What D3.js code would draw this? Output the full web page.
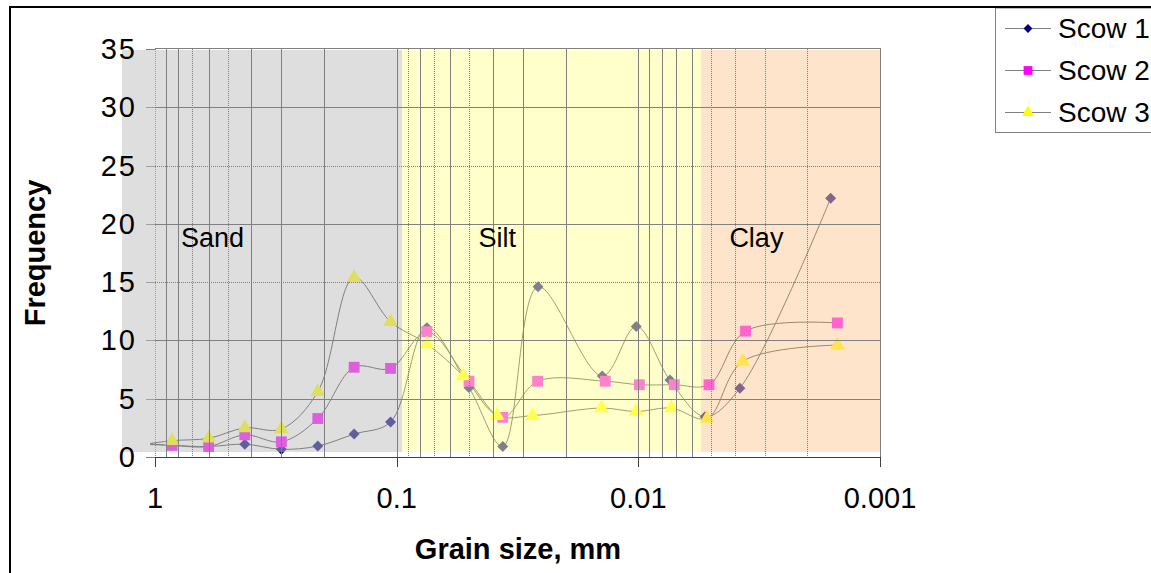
<!DOCTYPE html>
<html><head><meta charset="utf-8">
<script src="https://cdn.jsdelivr.net/npm/d3@7"></script>
<style>body{margin:0;background:#fff;} svg{display:block;font-family:"Liberation Sans",Arial,sans-serif;}</style>
</head><body><svg id="c" width="1151" height="573"></svg>
<script>
// ---- data ----
const seriesNames = ["Scow 1", "Scow 2", "Scow 3"];
const scow1Size = [1.18, 0.85, 0.6, 0.425, 0.3, 0.212, 0.15, 0.106, 0.075, 0.0502, 0.0364, 0.026, 0.0141, 0.0102, 0.0074, 0.0053, 0.0038, 0.0016];
const scow1Freq = [1.2, 1.0, 0.9, 1.1, 0.66, 0.94, 1.97, 3.0, 11.1, 5.95, 0.9, 14.6, 6.95, 11.2, 6.6, 3.46, 5.9, 22.2];
const scow2Size = [1.18, 0.85, 0.6, 0.425, 0.3, 0.212, 0.15, 0.106, 0.075, 0.0502, 0.0364, 0.0261, 0.0137, 0.0099, 0.0071, 0.0051, 0.0036, 0.0015];
const scow2Freq = [1.1, 1.0, 0.9, 1.9, 1.3, 3.3, 7.7, 7.6, 10.75, 6.5, 3.4, 6.5, 6.5, 6.2, 6.2, 6.2, 10.8, 11.5];
const scow3Size = [1.18, 0.85, 0.6, 0.425, 0.3, 0.212, 0.15, 0.106, 0.075, 0.053, 0.0384, 0.0274, 0.0142, 0.0102, 0.0073, 0.0052, 0.0037, 0.0015];
const scow3Freq = [1.0, 1.4, 1.6, 2.5, 2.4, 5.6, 15.4, 11.6, 9.7, 6.95, 3.55, 3.55, 4.2, 3.9, 4.2, 3.3, 8.2, 9.6];
const xTickValues = [1, 0.1, 0.01, 0.001];
const xTickLabels = ["1", "0.1", "0.01", "0.001"];
const yTickValues = [0, 5, 10, 15, 20, 25, 30, 35];
const zoneNames = ["Sand", "Silt", "Clay"];
const zoneFrom = [1.37, 0.0948, 0.0055];
const zoneTo = [0.0948, 0.0055, 0.001];
const zoneLabelAt = [0.78, 0.0458, 0.0042];
const xLabel = "Grain size, mm";
const yLabel = "Frequency";

// ---- setup ----
const svg = d3.select("#c");
const x = d3.scaleLog().domain([1, 0.001]).range([155, 880]);
const y = d3.scaleLinear().domain([0, 35]).range([457, 49]);
const F = '"Liberation Sans", Arial, sans-serif';

const defs = svg.append("defs");
const zoneColors = ["#bdbdbd", "#ffff99", "#ffc999"];
defs.append("clipPath").attr("id", "clip").append("rect")
  .attr("x", 150).attr("y", 0).attr("width", 740).attr("height", 470);

// minor gridline values
const minors = [];
for (let e = 0; e < 3; e++) for (let k = 2; k <= 9; k++) minors.push(k * Math.pow(10, -e - 1));
const vGrid = minors.concat([0.1, 0.01]);
const underV = [0.7, 0.5, 0.09, 0.07, 0.05, 0.005, 0.004, 0.003, 0.002];
const isUnderV = v => underV.some(u => Math.abs(u - v) / u < 1e-6);
const underH = [15, 25];

const grid = (g, under) => {
  g.selectAll(".v").data(vGrid.filter(v => isUnderV(v) === under)).enter().append("line")
    .attr("x1", d => Math.round(x(d)) + 0.5).attr("x2", d => Math.round(x(d)) + 0.5)
    .attr("y1", y(35)).attr("y2", y(0)).attr("stroke", "#808080").attr("stroke-width", 1)
    .attr("stroke-dasharray", under ? "1,1" : null);
  g.selectAll(".h").data([5, 10, 15, 20, 25, 30].filter(v => underH.includes(v) === under)).enter().append("line")
    .attr("x1", x(1)).attr("x2", x(0.001))
    .attr("y1", d => Math.round(y(d)) + 0.5).attr("y2", d => Math.round(y(d)) + 0.5)
    .attr("stroke", "#808080").attr("stroke-width", 1)
    .attr("stroke-dasharray", under ? "1,1" : null);
};

// under-overlay layer
const under = svg.append("g");
under.append("line").attr("x1", 155.5).attr("x2", 155.5).attr("y1", y(35)).attr("y2", y(0))
  .attr("stroke", "#808080").attr("stroke-dasharray", "1,1");
under.selectAll(".yt").data(yTickValues).enter().append("line")
  .attr("x1", 146).attr("x2", 155).attr("y1", d => Math.round(y(d)) + 0.5).attr("y2", d => Math.round(y(d)) + 0.5)
  .attr("stroke", "#808080");

// series
const series = [
  { name: seriesNames[0], xs: scow1Size, ys: scow1Freq, color: "#000080", shape: "diamond" },
  { name: seriesNames[1], xs: scow2Size, ys: scow2Freq, color: "#ff00ff", shape: "square" },
  { name: seriesNames[2], xs: scow3Size, ys: scow3Freq, color: "#ffff00", shape: "triangle" }
];
const line = d3.line().x(d => x(d[0])).y(d => y(d[1])).curve(d3.curveCatmullRom.alpha(0.5));
const sym = { diamond: d3.symbolSquare, square: d3.symbolSquare, triangle: d3.symbolTriangle };
const rot = { diamond: 45, square: 0, triangle: 0 };
const symSize = { diamond: 60, square: 118, triangle: 95 };
const dataG = under.append("g").attr("clip-path", "url(#clip)");
series.forEach(s => {
  const pts = s.xs.map((v, i) => [v, s.ys[i]]);
  dataG.append("path").attr("d", line(pts)).attr("fill", "none").attr("stroke", "#404040").attr("stroke-width", 1);
});
series.forEach(s => {
  const pts = s.xs.map((v, i) => [v, s.ys[i]]).filter(p => p[0] <= 1);
  dataG.selectAll(null).data(pts).enter().append("path")
    .attr("transform", d => `translate(${x(d[0])},${y(d[1])}) rotate(${rot[s.shape]})`)
    .attr("d", d3.symbol().type(sym[s.shape]).size(symSize[s.shape]))
    .attr("fill", s.color);
});

// overlay bands
svg.selectAll(".band").data(zoneNames).enter().append("rect")
  .attr("x", (d, i) => i === 0 ? 122 : Math.round(x(zoneFrom[i])))
  .attr("width", (d, i) => Math.round(x(zoneTo[i])) - (i === 0 ? 122 : Math.round(x(zoneFrom[i]))))
  .attr("y", Math.round(y(35)) + 1).attr("height", Math.round(y(0)) - 5 - Math.round(y(35)) - 1)
  .attr("fill", (d, i) => zoneColors[i]).attr("fill-opacity", 0.5);

const mid = svg.append("g");
grid(mid, true);
const over = svg.append("g");
grid(over, false);

// plot border top/right
svg.append("line").attr("x1", 155).attr("x2", 881).attr("y1", 48.5).attr("y2", 48.5).attr("stroke", "#808080");
svg.append("line").attr("x1", 880.5).attr("x2", 880.5).attr("y1", 48).attr("y2", 466).attr("stroke", "#808080");

// x axis
svg.append("line").attr("x1", 155).attr("x2", 881).attr("y1", 457.5).attr("y2", 457.5).attr("stroke", "#404040");
svg.selectAll(".xt").data(xTickValues).enter().append("line")
  .attr("x1", d => Math.round(x(d)) + 0.5).attr("x2", d => Math.round(x(d)) + 0.5)
  .attr("y1", 457).attr("y2", 467).attr("stroke", "#404040");
svg.selectAll(".xl").data(xTickValues).enter().append("text")
  .attr("x", d => x(d)).attr("y", 508).attr("text-anchor", "middle")
  .attr("font-size", 29).attr("font-family", F).attr("fill", "#000")
  .text((d, i) => xTickLabels[i]);
svg.selectAll(".yl").data(yTickValues).enter().append("text")
  .attr("x", 137).attr("y", d => y(d) + 10).attr("text-anchor", "end")
  .attr("font-size", 29).attr("font-family", F).attr("fill", "#000")
  .attr("letter-spacing", 2)
  .text(d => d);

// zone labels
svg.selectAll(".zl").data(zoneNames).enter().append("text")
  .attr("x", (d, i) => x(zoneLabelAt[i])).attr("y", y(18))
  .attr("font-size", 27).attr("font-family", F).attr("fill", "#000").text(d => d);

// axis titles
svg.append("text").attr("x", 518).attr("y", 559).attr("text-anchor", "middle")
  .attr("font-size", 29).attr("font-weight", "bold").attr("font-family", F).text(xLabel);
svg.append("text").attr("transform", "translate(45,253) rotate(-90)").attr("text-anchor", "middle")
  .attr("font-size", 29).attr("font-weight", "bold").attr("font-family", F).text(yLabel);

// outer border
svg.append("rect").attr("x", 10).attr("y", 7).attr("width", 1300).attr("height", 700)
  .attr("fill", "none").attr("stroke", "#000").attr("stroke-width", 2);

// legend
const lg = svg.append("g");
lg.append("rect").attr("x", 995.5).attr("y", 8).attr("width", 300).attr("height", 124.5)
  .attr("fill", "#fff").attr("stroke", "#808080");
svg.append("line").attr("x1", 995).attr("x2", 1151).attr("y1", 7).attr("y2", 7).attr("stroke", "#000").attr("stroke-width", 2);
series.forEach((s, i) => {
  const cy = 28 + i * 42;
  lg.append("line").attr("x1", 1005).attr("x2", 1051).attr("y1", cy + 0.5).attr("y2", cy + 0.5).attr("stroke", "#808080");
  lg.append("path").attr("transform", `translate(1028,${cy + 0.5}) rotate(${rot[s.shape]})`)
    .attr("d", d3.symbol().type(sym[s.shape]).size(symSize[s.shape] * 0.65)).attr("fill", s.color);
  lg.append("text").attr("x", 1058).attr("y", cy + 10).attr("font-size", 28).attr("font-family", F)
    .attr("fill", "#000").text(s.name);
});
</script></body></html>
